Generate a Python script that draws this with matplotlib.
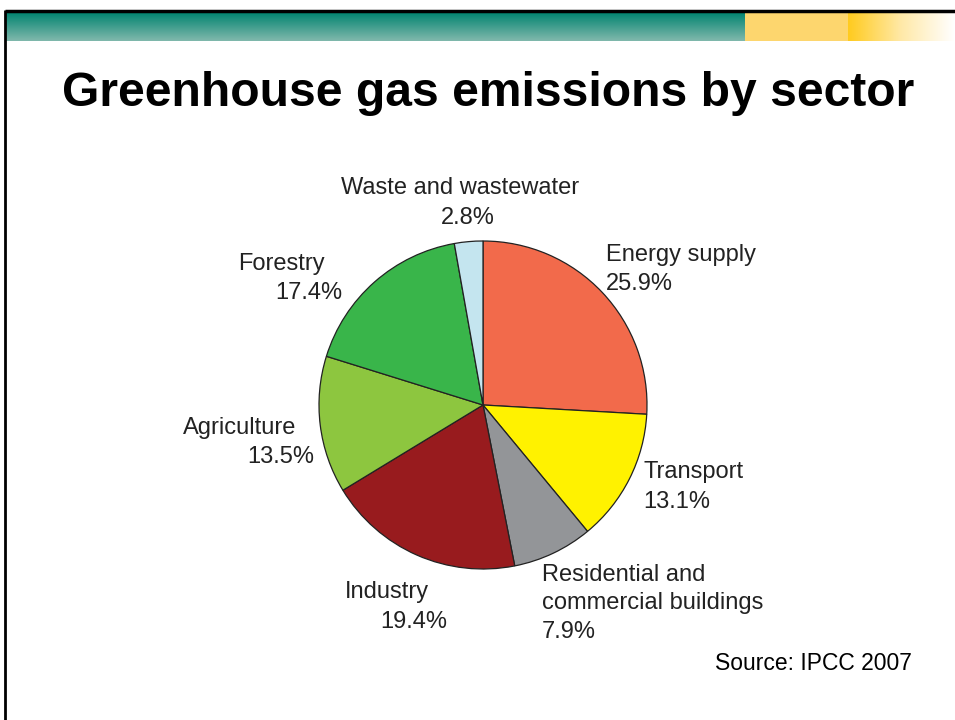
import numpy as np
import matplotlib
matplotlib.use('Agg')
import matplotlib.pyplot as plt
from matplotlib.colors import LinearSegmentedColormap

plt.rcParams['font.family'] = ['Liberation Sans', 'DejaVu Sans']

# 数据
sectors = ['Energy supply', 'Transport', 'Residential and\ncommercial buildings',
           'Industry', 'Agriculture', 'Forestry', 'Waste and wastewater']
shares = [25.9, 13.1, 7.9, 19.4, 13.5, 17.4, 2.8]
colors = ['#F26A4B', '#FFF200', '#939598', '#981B1E', '#8DC63F', '#39B54A', '#C4E5EF']

W, H = 955, 720
fig = plt.figure(figsize=(W / 100, H / 100), dpi=100)

# 背景层, 像素坐标
bg = fig.add_axes([0, 0, 1, 1])
bg.set_xlim(0, W)
bg.set_ylim(H, 0)
bg.axis('off')

# 顶部横条
teal = LinearSegmentedColormap.from_list('teal', ['#00836F', '#80B8AC'])
bg.imshow(np.linspace(0, 1, 50).reshape(-1, 1), cmap=teal, aspect='auto',
          extent=(6, 745, 41, 12), zorder=1)
bg.fill_between([745, 848], 12, 41, color='#FDD66E', lw=0, zorder=1)
yel = LinearSegmentedColormap.from_list('yel', ['#FFCB1F', '#FFE9A8', '#FFFFFF'])
bg.imshow(np.linspace(0, 1, 100).reshape(1, -1), cmap=yel, aspect='auto',
          extent=(848, 955, 41, 12), zorder=1)
bg.plot([5, 955], [11, 11], color='black', lw=2.5, zorder=2, solid_capstyle='butt')
bg.plot([5, 5], [10, 720], color='black', lw=2, zorder=2, solid_capstyle='butt')
bg.set_xlim(0, W)
bg.set_ylim(H, 0)

# 标题
bg.text(488, 94, 'Greenhouse gas emissions by sector', ha='center', va='center',
        fontsize=34.6, fontweight='bold', color='black')

# 饼图
cx, cy, r = 483, 405, 164
pa = fig.add_axes([(cx - r) / W, (H - cy - r) / H, 2 * r / W, 2 * r / H])
pa.pie(shares, colors=colors, startangle=90, counterclock=False,
       wedgeprops=dict(edgecolor='#222222', linewidth=0.9))
pa.set_xlim(-1.0, 1.0)
pa.set_ylim(-1.0, 1.0)
pa.axis('off')

# 标签
fs = 17
tc = '#222222'
lab = [
    (460, 188, 'Waste and wastewater', 'center'),
    (468, 218, '2.8%', 'center'),
    (606, 255, 'Energy supply', 'left'),
    (606, 284, '25.9%', 'left'),
    (238, 264, 'Forestry', 'left'),
    (275, 293, '17.4%', 'left'),
    (183, 428, 'Agriculture', 'left'),
    (247, 457, '13.5%', 'left'),
    (643, 472, 'Transport', 'left'),
    (643, 502, '13.1%', 'left'),
    (542, 575, 'Residential and', 'left'),
    (542, 603, 'commercial buildings', 'left'),
    (542, 632, '7.9%', 'left'),
    (345, 592, 'Industry', 'left'),
    (380, 622, '19.4%', 'left'),
]
for x, y, s, ha in lab:
    bg.text(x, y, s, ha=ha, va='center', fontsize=fs, color=tc)

bg.text(912, 663, 'Source: IPCC 2007', ha='right', va='center', fontsize=16.5, color='black')

fig.savefig('out.png', dpi=100)
